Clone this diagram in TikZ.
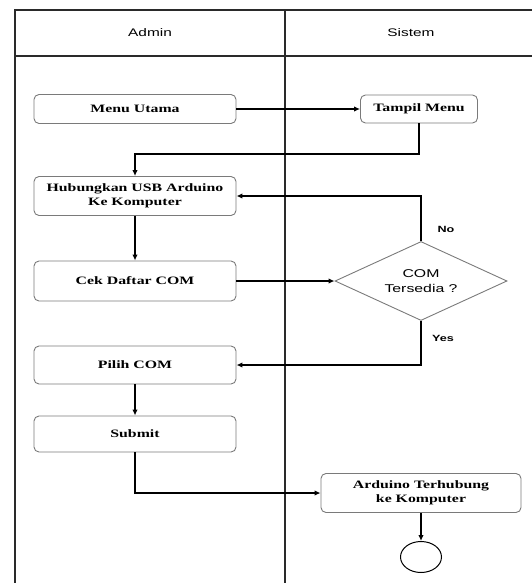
\documentclass[tikz,border=0pt]{standalone}
\usepackage{fontspec}
\usetikzlibrary{shapes.geometric,arrows.meta}
% wide faces used throughout the chart
\newfontfamily\boxfont[FakeStretch=1.4]{Liberation Serif}
\newfontfamily\lanefont[FakeStretch=1.4]{Liberation Sans}
\definecolor{boxline}{HTML}{7A7A7A}
\definecolor{frameline}{HTML}{2A2A2A}
\tikzset{
  lane/.style={draw=frameline, line width=1.8pt},
  lanehead/.style={font=\lanefont\fontsize{11}{13}\selectfont},
  act/.style={draw=boxline, line width=0.9pt, rounded corners=5pt,
    minimum width=202pt, inner sep=0pt, align=center,
    font=\boxfont\bfseries\fontsize{11.3}{14}\selectfont},
  dec/.style={diamond, draw=boxline, line width=0.9pt, aspect=2.18,
    minimum width=172pt, minimum height=79pt, inner sep=0pt, align=center,
    font=\lanefont\fontsize{11.3}{15}\selectfont},
  finish/.style={ellipse, draw=black, line width=1pt, minimum width=41pt,
    minimum height=31pt, inner sep=0pt},
  guard/.style={font=\lanefont\bfseries\fontsize{9}{11}\selectfont},
  flow/.style={draw=black, line width=1.3pt, -{Latex[length=6pt,width=5.5pt]}}
}
\begin{document}
\begin{tikzpicture}[x=1pt,y=-1pt]
\useasboundingbox (0,0) rectangle (532,583);

% swimlane frame
\coordinate (tl) at (15,10);
\coordinate (tr) at (532,10);
\coordinate (hl) at (15,56);
\coordinate (hr) at (532,56);
\coordinate (bl) at (15,583);
\coordinate (mt) at (285,10);
\coordinate (mb) at (285,583);
\draw[lane] (tr) -- (tl) -- (bl);
\draw[lane] (hl) -- (hr);
\draw[lane] (mt) -- (mb);
\node[lanehead] (admin) at (150,33) {Admin};
\node[lanehead] (sistem) at (411,33) {Sistem};

% activities
\node[act, minimum height=29pt] (menu) at (135,109) {Menu Utama};
\node[act, minimum width=117pt, minimum height=28pt] (tampil) at (419,109) {Tampil Menu};
\node[act, minimum height=39pt] (usb) at (135,196) {Hubungkan USB Arduino\\Ke Komputer};
\node[act, minimum height=40pt] (cek) at (135,281) {Cek Daftar COM};
\node[dec] (ada) at (421,281) {COM\\Tersedia ?};
\node[act, minimum height=38pt] (pilih) at (135,365) {Pilih COM};
\node[act, minimum height=36pt] (submit) at (135,434) {Submit};
\node[act, minimum width=200pt, minimum height=39pt] (hub) at (421,493) {Arduino Terhubung\\ke Komputer};
\node[finish] (akhir) at (421,557) {};

% bends of the connectors
\coordinate (b1) at (tampil.south |- 0,154);
\coordinate (b2) at (usb.north |- 0,154);
\coordinate (b3) at (ada.north |- usb.east);
\coordinate (b4) at (ada.south |- pilih.east);
\coordinate (b5) at (submit.south |- hub.west);

% flow
\draw[flow] (menu.east) -- (tampil.west);
\draw[flow] (tampil.south) -- (b1) -- (b2) -- (usb.north);
\draw[flow] (ada.north) -- (b3) -- (usb.east);
\draw[flow] (usb.south) -- (cek.north);
\draw[flow] (cek.east) -- (ada.west);
\draw[flow] (ada.south) -- (b4) -- (pilih.east);
\draw[flow] (pilih.south) -- (submit.north);
\draw[flow] (submit.south) -- (b5) -- (hub.west);
\draw[flow] (hub.south) -- (akhir.north);

% guards
\node[guard] (no) at (446,229) {No};
\node[guard] (yes) at (443,338) {Yes};
\end{tikzpicture}
\end{document}
